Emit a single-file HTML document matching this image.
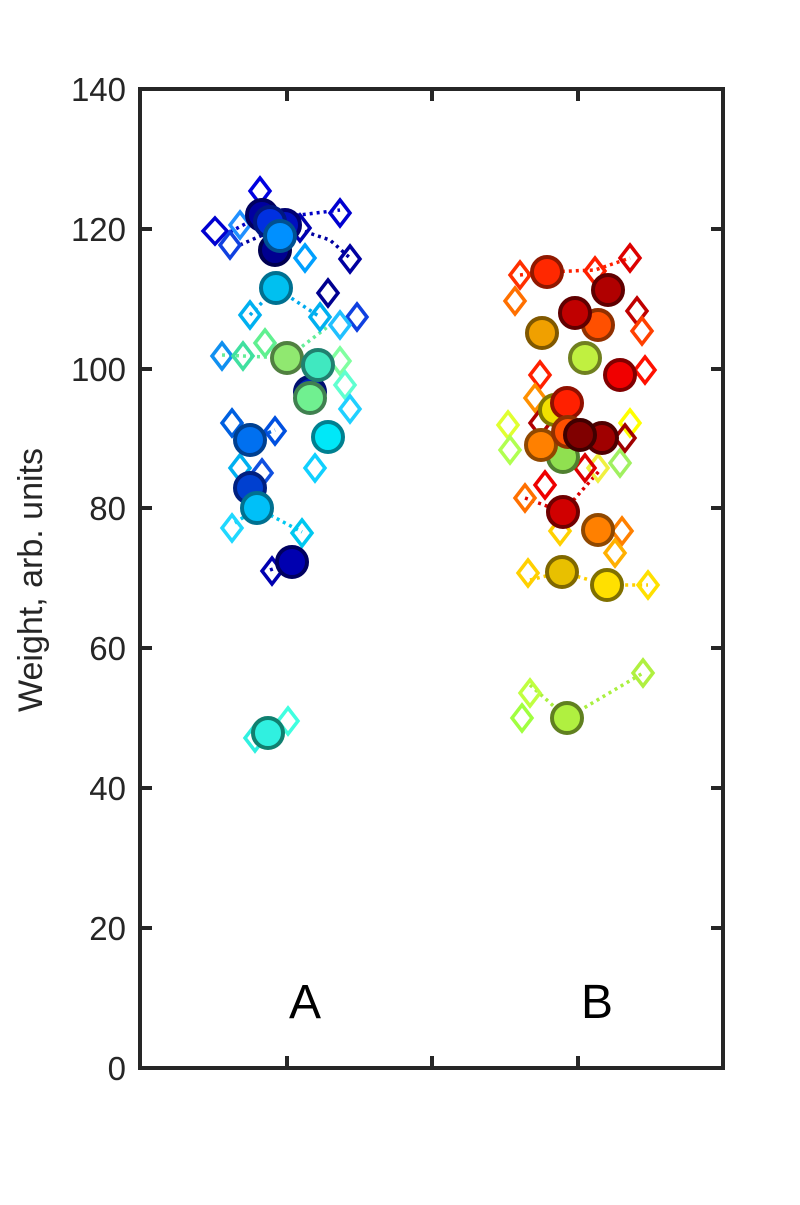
<!DOCTYPE html>
<html><head><style>html,body{margin:0;padding:0;background:#fff}</style></head>
<body>
<svg width="800" height="1200" viewBox="0 0 800 1200" xmlns="http://www.w3.org/2000/svg" font-family="Liberation Sans, sans-serif">
<rect width="800" height="1200" fill="#fff"/>
<g fill="none" stroke-width="3.5" stroke-dasharray="3,4">
<polyline points="230,232 262,215 300,215 340,210" stroke="#0000c8"/>
<polyline points="240,245 285,225 330,240 350,258" stroke="#0000a0"/>
<polyline points="250,315 276,288 320,317" stroke="#00aaee"/>
<polyline points="222,355 287,358 330,325" stroke="#66ee99"/>
<polyline points="235,523 257,508 302,532" stroke="#00c8f0"/>
<polyline points="270,570 292,562 300,560" stroke="#0000b0"/>
<polyline points="240,420 250,440 275,430" stroke="#0060e0"/>
<polyline points="530,685 567,718 643,673" stroke="#aaf040"/>
<polyline points="520,275 547,272 595,270 630,258" stroke="#ff2000"/>
<polyline points="530,580 562,572 607,585 648,585" stroke="#ffd000"/>
<polyline points="525,498 563,512 600,470" stroke="#dd0000"/>
</g>
<g fill="none" stroke-width="3.5">
<path d="M215,218l12,13-12,13-12-13z" stroke="#0000d0"/>
<path d="M230,232l10,13-10,13-10-13z" stroke="#1040e0"/>
<path d="M240,212l10,13-10,13-10-13z" stroke="#2090ff"/>
<path d="M260,178l10,13-10,13-10-13z" stroke="#0000e0"/>
<path d="M300,215l10,13-10,13-10-13z" stroke="#0000b0"/>
<path d="M340,200l10,13-10,13-10-13z" stroke="#0000d0"/>
<path d="M350,246l10,13-10,13-10-13z" stroke="#0000a0"/>
<path d="M305,245l10,13-10,13-10-13z" stroke="#00a0ff"/>
<path d="M328,280l10,13-10,13-10-13z" stroke="#000090"/>
<path d="M357,304l10,13-10,13-10-13z" stroke="#1040e0"/>
<path d="M250,302l10,13-10,13-10-13z" stroke="#00b0f0"/>
<path d="M320,304l10,13-10,13-10-13z" stroke="#00b0f0"/>
<path d="M340,312l10,13-10,13-10-13z" stroke="#20c0ff"/>
<path d="M222,343l10,13-10,13-10-13z" stroke="#1090f0"/>
<path d="M243,343l10,13-10,13-10-13z" stroke="#40e0a0"/>
<path d="M265,330l10,13-10,13-10-13z" stroke="#60f090"/>
<path d="M340,348l10,13-10,13-10-13z" stroke="#80ffa0"/>
<path d="M345,372l10,13-10,13-10-13z" stroke="#60ffd0"/>
<path d="M350,396l10,13-10,13-10-13z" stroke="#20d0ff"/>
<path d="M232,410l10,13-10,13-10-13z" stroke="#0060e0"/>
<path d="M275,418l10,13-10,13-10-13z" stroke="#0050e0"/>
<path d="M240,455l10,13-10,13-10-13z" stroke="#00b0f0"/>
<path d="M262,460l10,13-10,13-10-13z" stroke="#1050e0"/>
<path d="M315,455l10,13-10,13-10-13z" stroke="#10d0ff"/>
<path d="M232,515l10,13-10,13-10-13z" stroke="#20d8ff"/>
<path d="M302,520l10,13-10,13-10-13z" stroke="#00c8f0"/>
<path d="M272,558l10,13-10,13-10-13z" stroke="#0000b0"/>
<path d="M255,725l10,13-10,13-10-13z" stroke="#30f0e0"/>
<path d="M288,708l10,13-10,13-10-13z" stroke="#40ffe0"/>
<path d="M520,262l10,13-10,13-10-13z" stroke="#ff3000"/>
<path d="M515,288l10,13-10,13-10-13z" stroke="#ff7000"/>
<path d="M595,258l10,13-10,13-10-13z" stroke="#ff2000"/>
<path d="M630,245l10,13-10,13-10-13z" stroke="#dd0000"/>
<path d="M637,298l10,13-10,13-10-13z" stroke="#c00000"/>
<path d="M642,318l10,13-10,13-10-13z" stroke="#ff4000"/>
<path d="M645,357l10,13-10,13-10-13z" stroke="#ff1000"/>
<path d="M540,362l10,13-10,13-10-13z" stroke="#ff2000"/>
<path d="M535,385l10,13-10,13-10-13z" stroke="#ff9000"/>
<path d="M508,412l10,13-10,13-10-13z" stroke="#e0ff30"/>
<path d="M510,437l10,13-10,13-10-13z" stroke="#b0ff50"/>
<path d="M540,410l10,13-10,13-10-13z" stroke="#b00000"/>
<path d="M620,450l10,13-10,13-10-13z" stroke="#a0f060"/>
<path d="M630,410l10,13-10,13-10-13z" stroke="#ffff00"/>
<path d="M625,425l10,13-10,13-10-13z" stroke="#a00000"/>
<path d="M598,455l10,13-10,13-10-13z" stroke="#f0f040"/>
<path d="M585,455l10,13-10,13-10-13z" stroke="#dd0000"/>
<path d="M525,485l10,13-10,13-10-13z" stroke="#ff7000"/>
<path d="M545,472l10,13-10,13-10-13z" stroke="#ee0000"/>
<path d="M560,518l10,13-10,13-10-13z" stroke="#ffd000"/>
<path d="M622,518l10,13-10,13-10-13z" stroke="#ff8000"/>
<path d="M615,540l10,13-10,13-10-13z" stroke="#ffb000"/>
<path d="M528,560l10,13-10,13-10-13z" stroke="#ffd000"/>
<path d="M648,572l10,13-10,13-10-13z" stroke="#ffe000"/>
<path d="M530,680l10,13-10,13-10-13z" stroke="#c0ff40"/>
<path d="M522,705l10,13-10,13-10-13z" stroke="#a0ff40"/>
<path d="M643,660l10,13-10,13-10-13z" stroke="#b0f040"/>
</g>
<g stroke-width="4">
<circle cx="262" cy="215" r="15" fill="#0000a0" stroke="#000060"/>
<circle cx="285" cy="225" r="15" fill="#0010c0" stroke="#000070"/>
<circle cx="270" cy="222" r="15" fill="#0030e0" stroke="#001880"/>
<circle cx="275" cy="250" r="15" fill="#000090" stroke="#000050"/>
<circle cx="280" cy="236" r="15" fill="#0090ff" stroke="#005090"/>
<circle cx="276" cy="288" r="15" fill="#00c0f0" stroke="#007090"/>
<circle cx="310" cy="392" r="15" fill="#0020c0" stroke="#001070"/>
<circle cx="287" cy="358" r="15" fill="#90e870" stroke="#508040"/>
<circle cx="318" cy="365" r="15" fill="#40e8c0" stroke="#208070"/>
<circle cx="310" cy="398" r="15" fill="#70f090" stroke="#408050"/>
<circle cx="328" cy="437" r="15" fill="#00e8f8" stroke="#008090"/>
<circle cx="250" cy="440" r="15" fill="#0070f0" stroke="#004090"/>
<circle cx="250" cy="488" r="15" fill="#0040d0" stroke="#002080"/>
<circle cx="257" cy="508" r="15" fill="#00c0f8" stroke="#007090"/>
<circle cx="292" cy="562" r="15" fill="#0000b0" stroke="#000060"/>
<circle cx="268" cy="733" r="15" fill="#30f0e0" stroke="#108070"/>
<circle cx="547" cy="272" r="15" fill="#ff2800" stroke="#901800"/>
<circle cx="608" cy="290" r="15" fill="#b00000" stroke="#600000"/>
<circle cx="598" cy="325" r="15" fill="#ff5000" stroke="#903000"/>
<circle cx="575" cy="313" r="15" fill="#c00000" stroke="#600000"/>
<circle cx="542" cy="333" r="15" fill="#f0a000" stroke="#805800"/>
<circle cx="585" cy="358" r="15" fill="#c0f040" stroke="#708020"/>
<circle cx="620" cy="375" r="15" fill="#f00000" stroke="#800000"/>
<circle cx="555" cy="410" r="15" fill="#f0e000" stroke="#807800"/>
<circle cx="567" cy="403" r="15" fill="#ff2000" stroke="#901000"/>
<circle cx="563" cy="457" r="15" fill="#90e050" stroke="#508030"/>
<circle cx="541" cy="445" r="15" fill="#ff8000" stroke="#904800"/>
<circle cx="568" cy="432" r="15" fill="#ff5000" stroke="#903000"/>
<circle cx="602" cy="438" r="15" fill="#a00000" stroke="#500000"/>
<circle cx="580" cy="435" r="15" fill="#800000" stroke="#400000"/>
<circle cx="563" cy="512" r="15" fill="#d00000" stroke="#700000"/>
<circle cx="598" cy="530" r="15" fill="#ff8000" stroke="#904800"/>
<circle cx="562" cy="572" r="15" fill="#e8c000" stroke="#806800"/>
<circle cx="607" cy="585" r="15" fill="#ffe000" stroke="#807000"/>
<circle cx="567" cy="718" r="15" fill="#b0f040" stroke="#608020"/>
</g>
<rect x="140" y="89" width="583" height="979" fill="none" stroke="#262626" stroke-width="4"/>
<g stroke="#262626" stroke-width="4">
<path d="M140,928h12M140,788h12M140,648h12M140,508h12M140,369h12M140,229h12"/>
<path d="M723,928h-12M723,788h-12M723,648h-12M723,508h-12M723,369h-12M723,229h-12"/>
<path d="M287,1068v-12M432,1068v-12M578,1068v-12M287,89v12M432,89v12M578,89v12"/>
</g>
<g font-size="33" fill="#262626" text-anchor="end">
<text x="126" y="1080">0</text><text x="126" y="940">20</text><text x="126" y="800">40</text>
<text x="126" y="660">60</text><text x="126" y="520">80</text><text x="126" y="381">100</text>
<text x="126" y="241">120</text><text x="126" y="101">140</text>
</g>
<text transform="translate(42,580) rotate(-90)" font-size="34" fill="#262626" text-anchor="middle">Weight, arb. units</text>
<text x="305" y="1018" font-size="48" text-anchor="middle" fill="#000">A</text>
<text x="597" y="1018" font-size="48" text-anchor="middle" fill="#000">B</text>
</svg>
</body></html>
